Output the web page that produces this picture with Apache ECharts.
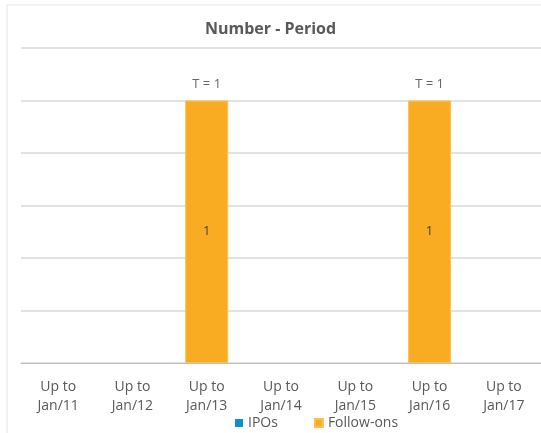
<!DOCTYPE html>
<html>
<head>
<meta charset="utf-8">
<script src="https://cdn.jsdelivr.net/npm/echarts@6/dist/echarts.min.js"></script>
<style>
  html, body { margin: 0; padding: 0; background: #fff; }
  #chart { width: 541px; height: 433px; }
</style>
</head>
<body>
<div id="chart"></div>
<script>
// 数据
const categories = ['Up to\nJan/11', 'Up to\nJan/12', 'Up to\nJan/13', 'Up to\nJan/14', 'Up to\nJan/15', 'Up to\nJan/16', 'Up to\nJan/17']
const ipos = [0, 0, 0, 0, 0, 0, 0]
const followOns = [0, 0, 1, 0, 0, 1, 0]
const totals = [0, 0, 1, 0, 0, 1, 0]

const font = "'Open Sans', 'Noto Sans', sans-serif"
const textColor = '#595959'

const chart = echarts.init(document.getElementById('chart'))

const option = {
  animation: false,
  textStyle: { fontFamily: font },
  graphic: [
    {
      type: 'rect',
      shape: { x: 7, y: 5, width: 600, height: 500 },
      style: { fill: 'none', stroke: '#e3e3e3', lineWidth: 1 },
      silent: true
    }
  ],
  title: {
    text: 'Number - Period',
    left: 'center',
    top: 16,
    textStyle: { fontFamily: font, fontSize: 16, fontWeight: 'bold', color: textColor }
  },
  legend: {
    data: ['IPOs', 'Follow-ons'],
    bottom: -2,
    left: 230,
    itemWidth: 8,
    itemHeight: 8,
    itemGap: 36,
    icon: 'rect',
    textStyle: { fontFamily: font, fontSize: 14, color: textColor }
  },
  grid: { left: 21, top: 48, width: 522, bottom: 70, containLabel: false },
  xAxis: {
    type: 'category',
    data: categories,
    axisLine: { lineStyle: { color: '#bfbfbf' } },
    axisTick: { length: 5, lineStyle: { color: '#bfbfbf' } },
    axisLabel: { fontFamily: font, fontSize: 14, color: textColor, lineHeight: 19, margin: 15 }
  },
  yAxis: {
    type: 'value',
    min: 0,
    max: 1.2,
    interval: 0.2,
    axisLabel: { show: false },
    axisLine: { show: false },
    axisTick: { show: false },
    splitLine: { lineStyle: { color: '#d9d9d9', width: 1.5 } }
  },
  series: [
    {
      name: 'IPOs',
      type: 'bar',
      stack: 'n',
      barWidth: 43,
      itemStyle: { color: '#0E8ED8' },
      data: ipos.map(v => (v > 0 ? v : null))
    },
    {
      name: 'Follow-ons',
      type: 'bar',
      stack: 'n',
      barWidth: 43,
      itemStyle: { color: '#F9AC21', borderColor: '#FBC04F', borderWidth: 1 },
      label: {
        show: true,
        position: 'inside',
        fontFamily: font,
        fontSize: 13,
        color: '#404040',
        formatter: p => (p.value > 0 ? p.value : '')
      },
      data: followOns.map(v => (v > 0 ? v : null))
    },
    {
      name: 'Total',
      type: 'scatter',
      symbolSize: 0,
      silent: true,
      label: {
        show: true,
        position: 'top',
        distance: 10,
        fontFamily: font,
        fontSize: 13,
        color: '#404040',
        formatter: p => 'T = ' + p.value
      },
      data: totals.map(v => (v > 0 ? v : null))
    }
  ]
}

option && chart.setOption(option)
</script>
</body>
</html>
